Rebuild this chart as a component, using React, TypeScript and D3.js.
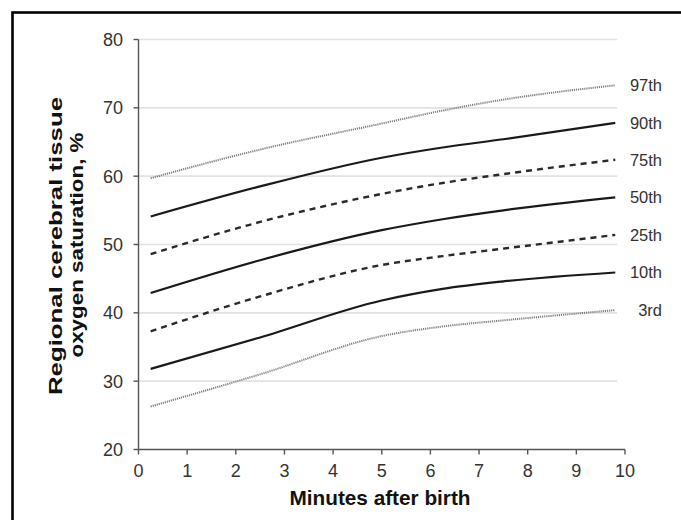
import React from "react";
import * as d3 from "d3";

const minutes = [0.25, 2.5, 5, 6.25, 7.5, 9.8];
const p97 = [59.7, 63.9, 67.7, 69.6, 71.2, 73.3];
const p90 = [54.1, 58.5, 62.7, 64.2, 65.4, 67.8];
const p75 = [48.6, 53.3, 57.4, 59.0, 60.3, 62.4];
const p50 = [42.9, 47.7, 52.1, 53.7, 55.0, 56.9];
const p25 = [37.3, 42.4, 47.0, 48.3, 49.4, 51.4];
const p10 = [31.8, 36.4, 41.8, 43.5, 44.6, 45.9];
const p3 = [26.3, 31.0, 36.6, 38.0, 38.9, 40.4];
const seriesNames = ["97th", "90th", "75th", "50th", "25th", "10th", "3rd"];
const xTicks = [0, 1, 2, 3, 4, 5, 6, 7, 8, 9, 10];
const yTicks = [20, 30, 40, 50, 60, 70, 80];

const seriesValues = [p97, p90, p75, p50, p25, p10, p3];
const styles: Record<string, { stroke: string; width: number; dash?: string }> = {
  "97th": { stroke: "#808080", width: 2, dash: "1.2,0.9" },
  "90th": { stroke: "#1a1a1a", width: 2.2 },
  "75th": { stroke: "#2a2a2a", width: 2.4, dash: "6,5" },
  "50th": { stroke: "#1a1a1a", width: 2.2 },
  "25th": { stroke: "#2a2a2a", width: 2.4, dash: "6,5" },
  "10th": { stroke: "#1a1a1a", width: 2.2 },
  "3rd": { stroke: "#808080", width: 2, dash: "1.2,0.9" },
};

export default function App() {
  const x = d3.scaleLinear().domain([0, 10]).range([138.5, 625]);
  const y = d3.scaleLinear().domain([20, 80]).range([449.5, 39.5]);
  const line = d3
    .line<number>()
    .x((_, i) => x(minutes[i]))
    .y((d) => y(d))
    .curve(d3.curveMonotoneX);
  const gridEnd = x(9.84);
  const font = "'Liberation Sans', Arial, sans-serif";
  return (
    <svg
      width={681}
      height={520}
      style={{ position: "absolute", left: 0, top: 0, background: "#fff" }}
      fontFamily={font}
    >
      <rect x={0} y={0} width={681} height={520} fill="#fff" />
      <rect x={12.5} y={12.5} width={720} height={560} fill="none" stroke="#000" strokeWidth={2.6} />
      {yTicks.filter((t) => t > 20).map((t) => (
        <line key={"g" + t} x1={x(0)} x2={gridEnd} y1={y(t)} y2={y(t)} stroke="#e2e2e2" strokeWidth={1.6} />
      ))}
      <line x1={x(0)} x2={x(0)} y1={y(80)} y2={y(20)} stroke="#555" strokeWidth={1.4} />
      <line x1={x(0)} x2={x(10)} y1={y(20)} y2={y(20)} stroke="#555" strokeWidth={1.4} />
      {yTicks.map((t) => (
        <g key={"y" + t}>
          <line x1={x(0) - 5} x2={x(0)} y1={y(t)} y2={y(t)} stroke="#555" strokeWidth={1.4} />
          <text x={123} y={y(t)} dy="0.36em" textAnchor="end" fontSize={18} fill="#333">
            {t}
          </text>
        </g>
      ))}
      {xTicks.map((t) => (
        <g key={"x" + t}>
          <line x1={x(t)} x2={x(t)} y1={y(20)} y2={y(20) + 5} stroke="#555" strokeWidth={1.4} />
          <text x={x(t)} y={477} textAnchor="middle" fontSize={18} fill="#333">
            {t}
          </text>
        </g>
      ))}
      {seriesNames.map((name, i) => {
        const s = styles[name];
        const vals = seriesValues[i];
        return (
          <g key={name}>
            <path
              d={line(vals) || ""}
              fill="none"
              stroke={s.stroke}
              strokeWidth={s.width}
              strokeDasharray={s.dash}
            />
            <text x={662} y={y(vals[vals.length - 1])} dy="0.36em" textAnchor="end" fontSize={16.5} fill="#333">
              {name}
            </text>
          </g>
        );
      })}
      <text
        x={380}
        y={505}
        textAnchor="middle"
        fontSize={21}
        fontWeight="bold"
        fill="#111"
        textLength={181}
        lengthAdjust="spacingAndGlyphs"
      >
        Minutes after birth
      </text>
      <g transform="translate(0,246) rotate(-90)">
        <text
          x={0}
          y={62}
          textAnchor="middle"
          fontSize={18}
          fontWeight="bold"
          fill="#111"
          textLength={298}
          lengthAdjust="spacingAndGlyphs"
        >
          Regional cerebral tissue
        </text>
        <text
          x={1}
          y={83}
          textAnchor="middle"
          fontSize={18}
          fontWeight="bold"
          fill="#111"
          textLength={225}
          lengthAdjust="spacingAndGlyphs"
        >
          oxygen saturation, %
        </text>
      </g>
    </svg>
  );
}
